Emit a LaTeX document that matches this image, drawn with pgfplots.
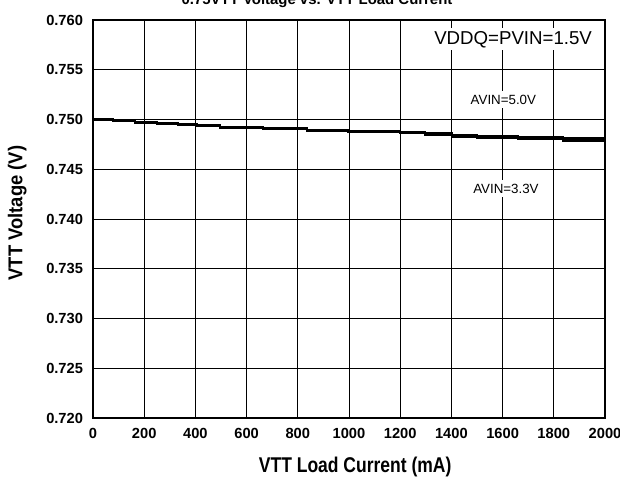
\documentclass[border=0pt]{standalone}
\usepackage{fontspec}
\setmainfont{Liberation Sans}
\newfontfamily\xlabfont{Liberation Sans}[FakeStretch=0.82]
\newfontfamily\ylabfont{Liberation Sans}[FakeStretch=0.92]
\usepackage{pgfplots}
\pgfplotsset{compat=1.18}
\begin{document}
\begin{tikzpicture}
\begin{axis}[
  at={(0,0)}, anchor=south west,
  scale only axis,
  width=384pt, height=298.5pt,
  xmin=0, xmax=2000, ymin=0.720, ymax=0.760,
  xtick={0,200,400,600,800,1000,1200,1400,1600,1800,2000},
  ytick={0.720,0.725,0.730,0.735,0.740,0.745,0.750,0.755,0.760},
  major tick length=0pt,
  grid=major,
  major grid style={black, line width=0.7pt},
  axis line style={black, line width=1.1pt},
  /pgf/number format/assume math mode=true,
  yticklabel style={/pgf/number format/fixed, /pgf/number format/precision=3, /pgf/number format/zerofill, xshift=-4pt},
  xticklabel style={/pgf/number format/1000 sep={}, yshift=-4pt},
  tick label style={font=\bfseries\fontsize{11}{12}\selectfont},
  xlabel={VTT Load Current (mA)},
  ylabel={VTT Voltage (V)},
  xlabel style={font=\xlabfont\bfseries\fontsize{16}{18}\selectfont, at={(axis description cs:0.512,-0.1357)}, anchor=base},
  ylabel style={font=\ylabfont\bfseries\fontsize{15}{18}\selectfont, at={(axis description cs:-0.148,0.515)}, anchor=center},
  clip=false,
]
\addplot[const plot, black, line width=2pt] coordinates {
(0,0.75000) (78,0.74988) (164,0.74975) (250,0.74962) (332,0.74950)
(406,0.74942) (496,0.74925) (664,0.74908) (836,0.74894) (996,0.74881)
(1199,0.74873) (1297,0.74858) (1402,0.74842) (1500,0.74832) (1660,0.74821)
(1836,0.74809) (2000,0.74809)
};
\addplot[const plot, black, line width=2pt] coordinates {
(0,0.74998) (78,0.74986) (164,0.74972) (250,0.74960) (332,0.74947)
(406,0.74939) (496,0.74922) (664,0.74905) (836,0.74889) (996,0.74876)
(1199,0.74866) (1297,0.74849) (1402,0.74832) (1500,0.74822) (1660,0.74805)
(1836,0.74789) (2000,0.74789)
};
\node[fill=white, inner sep=2pt, font=\fontsize{14}{16}\selectfont] at (axis cs:1641,0.75805) {VDDQ=PVIN=1.5V};
\node[fill=white, inner sep=3pt, font=\fontsize{10}{12}\selectfont] at (axis cs:1603,0.75199) {AVIN=5.0V};
\node[fill=white, inner sep=3pt, font=\fontsize{10}{12}\selectfont] at (axis cs:1613,0.74305) {AVIN=3.3V};
\node[anchor=base, font=\bfseries\fontsize{11.2}{13}\selectfont] at (axis cs:875,0.76151) {0.75VTT Voltage vs. VTT Load Current};
\end{axis}
\pgfresetboundingbox
\useasboundingbox (-69.75pt,-43.5pt) rectangle (395.25pt,313.5pt);
\end{tikzpicture}
\end{document}
